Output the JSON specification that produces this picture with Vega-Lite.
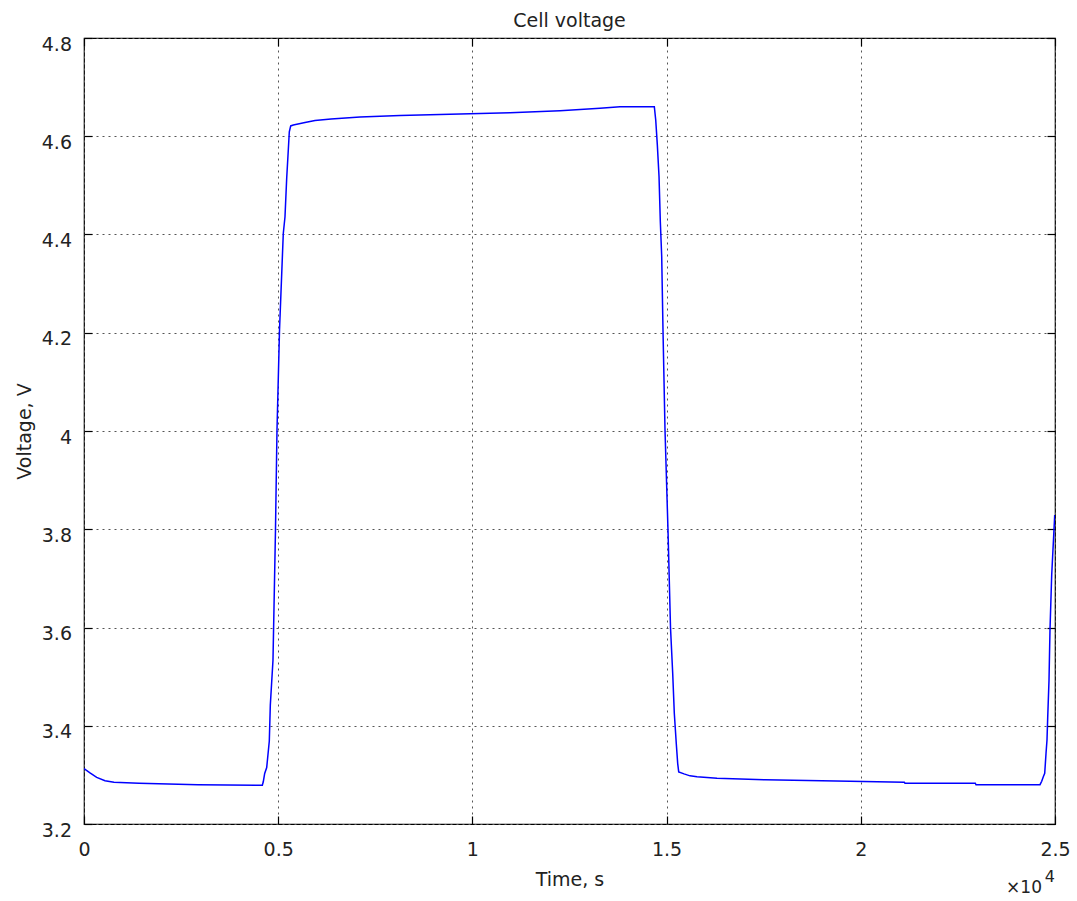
{
  "$schema": "https://vega.github.io/schema/vega-lite/v6.json",
  "width": 971,
  "height": 786,
  "autosize": {"type": "none"},
  "padding": {"left": 84, "top": 38, "right": 22, "bottom": 77},
  "background": "#ffffff",
  "title": {"text": "Cell voltage", "fontSize": 19, "fontWeight": "normal", "font": "DejaVu Sans", "color": "#222222", "offset": 12, "dy": 23, "baseline": "alphabetic", "anchor": "middle", "frame": "group"},
  "config": {"view": {"stroke": "#000000", "strokeWidth": 1.2}},
  "data": {"values": [
    {"t": 0, "v": 3.313}, {"t": 154, "v": 3.304}, {"t": 327, "v": 3.295}, {"t": 541, "v": 3.288},
    {"t": 772, "v": 3.285}, {"t": 1416, "v": 3.283}, {"t": 2935, "v": 3.280}, {"t": 4591, "v": 3.279},
    {"t": 4616, "v": 3.286}, {"t": 4652, "v": 3.303}, {"t": 4704, "v": 3.315}, {"t": 4771, "v": 3.369},
    {"t": 4797, "v": 3.442}, {"t": 4866, "v": 3.534}, {"t": 4930, "v": 3.798}, {"t": 4969, "v": 4.002},
    {"t": 5034, "v": 4.206}, {"t": 5131, "v": 4.402}, {"t": 5175, "v": 4.436}, {"t": 5219, "v": 4.515},
    {"t": 5260, "v": 4.572}, {"t": 5286, "v": 4.609}, {"t": 5322, "v": 4.621}, {"t": 5389, "v": 4.623},
    {"t": 5510, "v": 4.625}, {"t": 5690, "v": 4.628}, {"t": 5948, "v": 4.632}, {"t": 6360, "v": 4.635},
    {"t": 7106, "v": 4.639}, {"t": 8136, "v": 4.642}, {"t": 9423, "v": 4.645}, {"t": 10968, "v": 4.648},
    {"t": 12255, "v": 4.652}, {"t": 13285, "v": 4.657}, {"t": 13800, "v": 4.660}, {"t": 14684, "v": 4.660},
    {"t": 14720, "v": 4.633}, {"t": 14761, "v": 4.583}, {"t": 14805, "v": 4.518}, {"t": 14838, "v": 4.427},
    {"t": 14874, "v": 4.355}, {"t": 14907, "v": 4.206}, {"t": 14959, "v": 4.002}, {"t": 15036, "v": 3.798},
    {"t": 15101, "v": 3.599}, {"t": 15157, "v": 3.507}, {"t": 15198, "v": 3.426}, {"t": 15250, "v": 3.363},
    {"t": 15286, "v": 3.323}, {"t": 15312, "v": 3.306}, {"t": 15448, "v": 3.302}, {"t": 15603, "v": 3.298},
    {"t": 15783, "v": 3.296}, {"t": 16298, "v": 3.293}, {"t": 17534, "v": 3.290}, {"t": 19722, "v": 3.287},
    {"t": 21120, "v": 3.285}, {"t": 21138, "v": 3.283}, {"t": 22948, "v": 3.283}, {"t": 22966, "v": 3.280},
    {"t": 24614, "v": 3.280}, {"t": 24658, "v": 3.287}, {"t": 24699, "v": 3.296}, {"t": 24735, "v": 3.303},
    {"t": 24769, "v": 3.344}, {"t": 24794, "v": 3.371}, {"t": 24812, "v": 3.416}, {"t": 24846, "v": 3.493},
    {"t": 24871, "v": 3.595}, {"t": 24915, "v": 3.707}, {"t": 24993, "v": 3.829}
  ]},
  "resolve": {"scale": {"x": "shared", "y": "shared"}, "axis": {"x": "independent", "y": "independent"}},
  "layer": [
    {
      "mark": {"type": "line", "color": "#0000ff", "strokeWidth": 1.5, "clip": true},
      "encoding": {
        "x": {"field": "t", "type": "quantitative",
          "scale": {"domain": [0, 25000], "nice": false, "zero": false},
          "axis": {"orient": "bottom", "values": [0, 5000, 10000, 15000, 20000, 25000],
            "labelExpr": "datum.value / 10000", "labelFlush": false, "labelOverlap": false,
            "grid": true, "gridDash": [2, 4], "gridColor": "#555555", "gridWidth": 1,
            "domain": false, "tickSize": -8, "tickColor": "#000000", "tickWidth": 1.2,
            "labelPadding": 39, "labelBaseline": "alphabetic", "labelFontSize": 19, "labelFont": "DejaVu Sans", "labelColor": "#222222",
            "title": "Time, s", "titleX": 485.5, "titleY": 61, "titleBaseline": "alphabetic", "titleAlign": "center",
            "titleFontSize": 19, "titleFontWeight": "normal", "titleFont": "DejaVu Sans", "titleColor": "#222222"}},
        "y": {"field": "v", "type": "quantitative",
          "scale": {"domain": [3.2, 4.8], "nice": false, "zero": false},
          "axis": {"orient": "left", "values": [3.2, 3.4, 3.6, 3.8, 4.0, 4.2, 4.4, 4.6, 4.8],
            "format": "~g", "labelFlush": false, "labelOverlap": false,
            "grid": true, "gridDash": [2, 4], "gridColor": "#555555", "gridWidth": 1,
            "domain": false, "tickSize": -8, "tickColor": "#000000", "tickWidth": 1.2,
            "labelPadding": 20.5, "labelBaseline": "alphabetic", "labelOffset": 12, "labelFontSize": 19, "labelFont": "DejaVu Sans", "labelColor": "#222222",
            "title": "Voltage, V", "titleX": -54, "titleY": 393, "titleBaseline": "alphabetic", "titleAlign": "center", "titleAngle": -90,
            "titleFontSize": 19, "titleFontWeight": "normal", "titleFont": "DejaVu Sans", "titleColor": "#222222"}}
      }
    },
    {
      "data": {"values": [{"label": "×10"}]},
      "mark": {"type": "text", "align": "right", "baseline": "alphabetic", "dx": -13, "dy": 69, "fontSize": 17, "font": "DejaVu Sans", "color": "#222222"},
      "encoding": {
        "text": {"field": "label", "type": "nominal"},
        "x": {"datum": 25000, "type": "quantitative",
          "axis": {"orient": "top", "values": [0, 5000, 10000, 15000, 20000, 25000], "labels": false, "grid": false, "domain": false,
            "tickSize": -8, "tickColor": "#000000", "tickWidth": 1.2, "title": null}},
        "y": {"datum": 3.2, "type": "quantitative",
          "axis": {"orient": "right", "values": [3.2, 3.4, 3.6, 3.8, 4.0, 4.2, 4.4, 4.6, 4.8], "labels": false, "grid": false, "domain": false,
            "tickSize": -8, "tickColor": "#000000", "tickWidth": 1.2, "title": null}}
      }
    },
    {
      "data": {"values": [{"label": "4"}]},
      "mark": {"type": "text", "align": "right", "baseline": "alphabetic", "dx": 0, "dy": 58, "fontSize": 16, "font": "DejaVu Sans", "color": "#222222"},
      "encoding": {
        "text": {"field": "label", "type": "nominal"},
        "x": {"datum": 25000, "type": "quantitative", "axis": null},
        "y": {"datum": 3.2, "type": "quantitative", "axis": null}
      }
    }
  ]
}
